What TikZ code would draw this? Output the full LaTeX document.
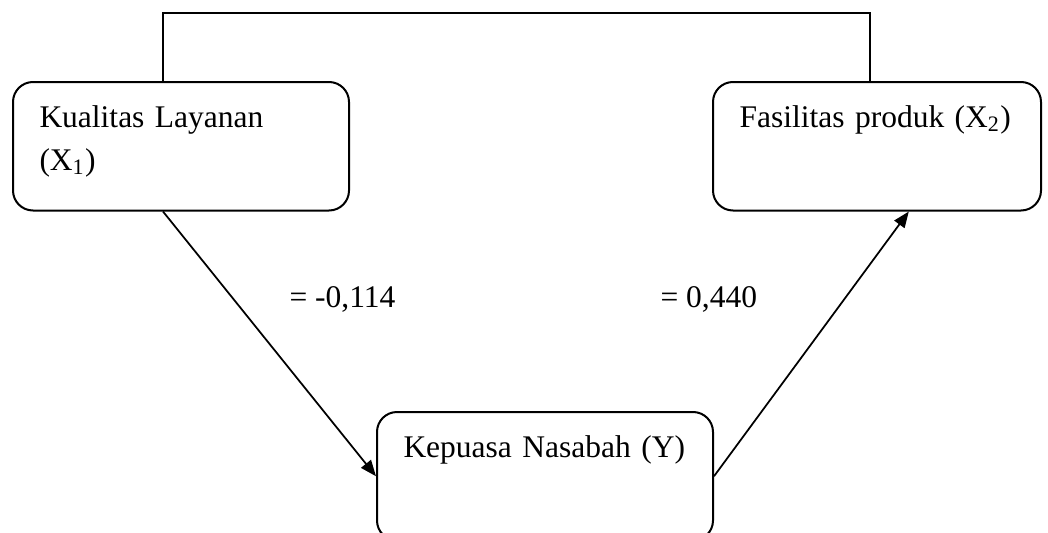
\documentclass[tikz,border=0pt]{standalone}
\usepackage{fontspec}
\setmainfont{Liberation Serif}
\usepackage{tikz}
\usetikzlibrary{arrows.meta}

\tikzset{
	varbox/.style={draw, line width=0.8pt, rounded corners=8pt, anchor=north west, align=left,
		inner xsep=10.6pt, inner ysep=9.4pt, text height=8.6pt, text depth=24pt,
		font=\fontsize{12.6}{17.2}\selectfont},
	arr/.style={-{Triangle[length=6.4pt,width=5pt]}, line width=0.7pt},
	coef/.style={anchor=base west, inner sep=0pt, font=\fontsize{12.6}{15}\selectfont},
}

\begin{document}
\begin{tikzpicture}[x=0.4pt, y=-0.4pt]
	\useasboundingbox (0,0) rectangle (1048,533);
	\clip (0,0) rectangle (1048,533);

	% variables
	\node[varbox, text width=113.2pt] (kl) at (12,81) {Kualitas Layanan\\(X\textsubscript{1})};
	\node[varbox, text width=110pt] (fp) at (712,81) {Fasilitas produk (X\textsubscript{2})};
	\node[varbox, text width=113.2pt] (kp) at (376,411) {Kepuasa Nasabah (Y)};

	% connectors
	\coordinate (tl) at (163,13);
	\coordinate (tr) at (870,13);
	\draw[line width=0.8pt] (kl.north -| tl) -- (tl) -- (tr) -- (fp.north -| tr);
	\draw[arr] (kl.south -| tl) -- (kp.west);
	\draw[arr] (kp.east) -- (fp.-64);

	\node[coef] (b1) at (289,307) {= -0,114};
	\node[coef] (b2) at (660,307) {= 0,440};
\end{tikzpicture}
\end{document}
